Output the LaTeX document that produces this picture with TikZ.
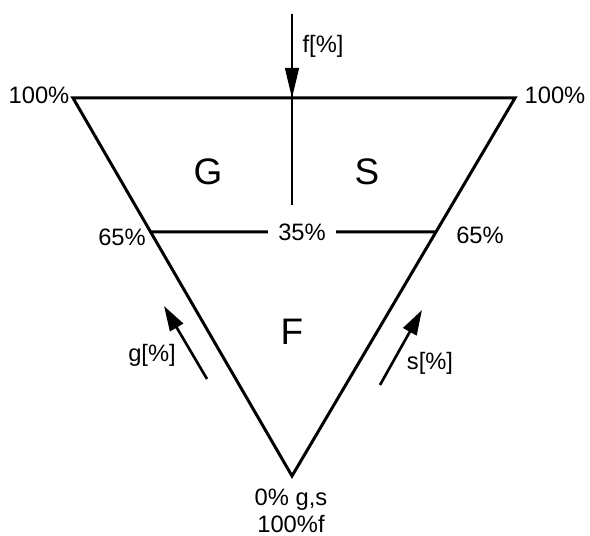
\documentclass[tikz,border=0pt]{standalone}
\usepackage{fontspec}
\setmainfont{Liberation Sans}
\usetikzlibrary{arrows.meta,calc}

\begin{document}
\begin{tikzpicture}[
  edge/.style={line width=1.7pt, line join=miter},
  thinline/.style={line width=0.6pt},
  farrow/.style={line width=0.6pt, -{Triangle[length=0.6cm,width=0.28cm]}},
  sidearrow/.style={line width=1.5pt, -{Triangle[length=0.5cm,width=0.3cm]}},
  lbl/.style={font=\fontsize{13.5}{15}\selectfont, inner sep=0pt},
  zone/.style={font=\fontsize{21}{24}\selectfont, inner sep=0pt}
]
  \useasboundingbox (0,0) rectangle (11.8,10.72);

  % triangle corners
  \coordinate (tl) at (1.46,8.76);
  \coordinate (tr) at (10.30,8.76);
  \coordinate (bot) at (5.84,1.20);
  \coordinate (ml) at ($(tl)!0.3545!(bot)$);
  \coordinate (mr) at ($(tr)!0.3545!(bot)$);

  \draw[edge] (tl) -- (tr) -- (bot) -- cycle;

  % 35% line
  \node[lbl, inner xsep=0.2cm] (p35) at (6.04,6.08) {35\%};
  \draw[edge] (ml) -- (p35.west);
  \draw[edge] (p35.east) -- (mr);

  % f axis
  \coordinate (ftop) at (5.84,10.44);
  \coordinate (ftip) at (5.84,8.76);
  \coordinate (fend) at (5.84,6.62);
  \draw[thinline] (ftop) -- (fend);
  \draw[farrow] (ftop) -- (ftip);

  % g and s arrows
  \coordinate (gs) at (4.14,3.14);
  \coordinate (ge) at (3.28,4.60);
  \coordinate (ss) at (7.60,3.02);
  \coordinate (se) at (8.44,4.52);
  \draw[sidearrow] (gs) -- (ge);
  \draw[sidearrow] (ss) -- (se);

  % labels
  \node[lbl] (tlpct) at (0.78,8.82) {100\%};
  \node[lbl] (trpct) at (11.10,8.82) {100\%};
  \node[lbl] (mlpct) at (2.44,5.98) {65\%};
  \node[lbl] (mrpct) at (9.60,6.02) {65\%};
  \node[lbl] (flbl) at (6.46,9.80) {f[\%]};
  \node[lbl] (glbl) at (3.04,3.62) {g[\%]};
  \node[lbl] (slbl) at (8.60,3.46) {s[\%]};
  \node[lbl, align=center] (botlbl) at (5.82,0.50) {0\% g,s\\100\%f};

  \node[zone] (G) at (4.16,7.28) {G};
  \node[zone] (S) at (7.34,7.28) {S};
  \node[zone] (F) at (5.84,4.08) {F};
\end{tikzpicture}
\end{document}
